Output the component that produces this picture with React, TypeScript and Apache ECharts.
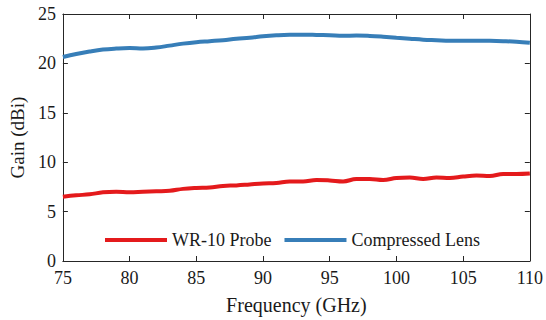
import React, { useEffect, useRef } from "react";
import * as echarts from "echarts";

const freq = [75,76,77,78,79,80,81,82,83,84,85,86,87,88,89,90,91,92,93,94,95,96,97,98,99,100,101,102,103,104,105,106,107,108,109,110];
const probeGain = [6.5,6.65,6.75,6.95,7.0,6.95,7.0,7.05,7.1,7.3,7.4,7.45,7.6,7.65,7.75,7.85,7.9,8.05,8.05,8.2,8.15,8.05,8.3,8.3,8.2,8.4,8.45,8.3,8.45,8.4,8.55,8.65,8.6,8.8,8.8,8.85];
const lensGain = [20.65,20.95,21.2,21.4,21.5,21.55,21.5,21.6,21.8,22.0,22.15,22.25,22.35,22.5,22.6,22.75,22.85,22.9,22.9,22.88,22.85,22.8,22.82,22.78,22.7,22.6,22.5,22.4,22.35,22.3,22.3,22.3,22.28,22.25,22.2,22.1];
const seriesNames = ["WR-10 Probe", "Compressed Lens"];
const xTitle = "Frequency (GHz)";
const yTitle = "Gain (dBi)";

const FONT = "'Liberation Serif', serif";
const AXIS_COLOR = "#262626";

export default function App() {
  const ref = useRef<HTMLDivElement>(null);
  useEffect(() => {
    if (!ref.current) return;
    const chart = echarts.init(ref.current, null, { renderer: "svg" });
    const axisLine = { show: true, onZero: false, lineStyle: { color: AXIS_COLOR, width: 1 } };
    const axisTick = { show: true, inside: true, length: 5, lineStyle: { color: AXIS_COLOR, width: 1 } };
    chart.setOption({
      animation: false,
      backgroundColor: "#ffffff",
      grid: { left: 59, right: 15, top: 14, bottom: 56, containLabel: false },
      legend: {
        left: 100,
        top: 226,
        icon: "rect",
        itemWidth: 62,
        itemHeight: 4,
        itemGap: 13,
        textStyle: { fontFamily: FONT, fontSize: 18, color: "#1a1a1a" },
        data: seriesNames,
      },
      xAxis: [
        {
          type: "value",
          min: 75,
          max: 110,
          interval: 5,
          position: "bottom",
          axisLine,
          axisTick,
          splitLine: { show: false },
          axisLabel: { fontFamily: FONT, fontSize: 18, color: "#1a1a1a", margin: 8 },
          name: xTitle,
          nameLocation: "middle",
          nameGap: 34,
          nameTextStyle: { fontFamily: FONT, fontSize: 20, color: "#1a1a1a" },
        },
        {
          type: "value",
          min: 75,
          max: 110,
          interval: 5,
          position: "top",
          axisLine,
          axisTick,
          splitLine: { show: false },
          axisLabel: { show: false },
        },
      ],
      yAxis: [
        {
          type: "value",
          min: 0,
          max: 25,
          interval: 5,
          position: "left",
          axisLine,
          axisTick,
          splitLine: { show: false },
          axisLabel: { fontFamily: FONT, fontSize: 18, color: "#1a1a1a", margin: 7 },
          name: yTitle,
          nameLocation: "middle",
          nameGap: 30,
          nameTextStyle: { fontFamily: FONT, fontSize: 19, color: "#1a1a1a" },
        },
        {
          type: "value",
          min: 0,
          max: 25,
          interval: 5,
          position: "right",
          axisLine,
          axisTick,
          splitLine: { show: false },
          axisLabel: { show: false },
        },
      ],
      series: [
        {
          name: seriesNames[0],
          type: "line",
          data: freq.map((f, i) => [f, probeGain[i]]),
          smooth: 0.4,
          showSymbol: false,
          lineStyle: { color: "#e41a1c", width: 4 },
          itemStyle: { color: "#e41a1c" },
        },
        {
          name: seriesNames[1],
          type: "line",
          data: freq.map((f, i) => [f, lensGain[i]]),
          smooth: 0.4,
          showSymbol: false,
          lineStyle: { color: "#377eb8", width: 4 },
          itemStyle: { color: "#377eb8" },
        },
      ],
    });
    return () => chart.dispose();
  }, []);
  return <div ref={ref} style={{ width: 546, height: 320, position: "absolute", left: 0, top: 0 }} />;
}
